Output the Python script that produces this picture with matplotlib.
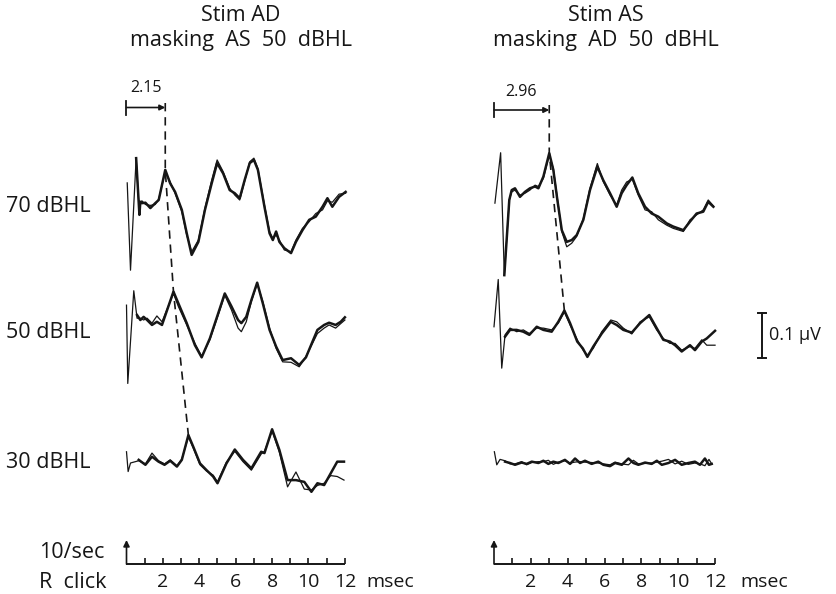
#!/usr/bin/env python3
"""ABR traces: stim AD / stim AS with contralateral masking at 50 dBHL.

Two replicate recordings per level, drawn on top of each other.
Writes out.png (837x594).
"""

import matplotlib
matplotlib.use("Agg")
import matplotlib.pyplot as plt
import numpy as np

# ---------------------------------------------------------------------------
# data: time in msec, amplitude in uV relative to each trace's own baseline
# ---------------------------------------------------------------------------
LEVELS = ["70 dBHL", "50 dBHL", "30 dBHL"]
TITLES = ["Stim AD\nmasking  AS  50  dBHL", "Stim AS\nmasking  AD  50  dBHL"]
LATENCY_LABELS = ["2.15", "2.96"]
TICK_MS = list(range(1, 13))
TICK_LABELS_MS = [2, 4, 6, 8, 10, 12]
SCALE_UV = 0.1

# wave V peak times, used for the dashed latency line (per level)
WAVE_V_AD = [2.13, 2.58, 3.40]
WAVE_V_AS = [3.00, 3.82]

# stim AD, 70 dBHL
AD70_T = [0.04, 0.22, 0.53, 0.71, 0.76, 0.85, 1.04, 1.31, 1.58, 1.77, 2.13, 2.40, 2.67, 3.04, 3.31,
          3.58, 3.95, 4.31, 4.68, 4.98, 5.31, 5.67, 5.95, 6.22, 6.49, 6.77, 7.00, 7.22, 7.58, 7.86,
          8.04, 8.22, 8.40, 8.67, 9.04, 9.31, 9.67, 10.04, 10.40, 10.77, 11.04, 11.31, 11.68, 12.04]
AD70_A = [0.038, -0.156, 0.093, -0.033, -0.004, -0.007, -0.006, -0.018, -0.007, 0.000, 0.067, 0.037,
          0.018, -0.022, -0.074, -0.122, -0.093, -0.022, 0.037, 0.082, 0.059, 0.022, 0.015, 0.004,
          0.044, 0.082, 0.089, 0.067, -0.015, -0.074, -0.089, -0.070, -0.093, -0.107, -0.118, -0.093,
          -0.067, -0.044, -0.037, -0.015, 0.004, -0.015, 0.007, 0.018]
AD70_B = [0.038, -0.156, 0.093, -0.033, -0.004, -0.002, -0.010, -0.012, -0.010, 0.002, 0.063, 0.040,
          0.015, -0.026, -0.078, -0.115, -0.089, -0.018, 0.044, 0.089, 0.063, 0.026, 0.011, 0.000,
          0.041, 0.085, 0.093, 0.070, -0.011, -0.070, -0.085, -0.078, -0.089, -0.111, -0.115, -0.089,
          -0.063, -0.048, -0.030, -0.022, -0.002, -0.005, 0.013, 0.015]

# stim AD, 50 dBHL
AD50_T = [0.00, 0.07, 0.40, 0.58, 0.76, 0.94, 1.13, 1.40, 1.67, 1.95, 2.58, 2.85, 3.31, 3.76, 4.13,
          4.58, 5.04, 5.40, 5.77, 6.13, 6.31, 6.58, 6.86, 7.18, 7.49, 7.86, 8.22, 8.58, 9.04, 9.49,
          9.86, 10.22, 10.49, 10.86, 11.13, 11.49, 11.77, 12.00]
AD50_A = [0.033, -0.141, 0.065, 0.011, 0.000, 0.007, 0.000, -0.011, -0.004, -0.011, 0.063, 0.037,
          -0.007, -0.056, -0.083, -0.041, 0.015, 0.059, 0.030, 0.000, -0.007, 0.007, 0.044, 0.083,
          0.037, -0.022, -0.059, -0.089, -0.085, -0.100, -0.083, -0.048, -0.022, -0.011, -0.006,
          -0.011, -0.004, 0.006]
AD50_B = [0.033, -0.141, 0.065, 0.004, 0.004, 0.000, 0.004, -0.007, 0.009, -0.004, 0.059, 0.030,
          -0.011, -0.052, -0.081, -0.044, 0.011, 0.055, 0.022, -0.018, -0.026, -0.004, 0.041, 0.081,
          0.041, -0.018, -0.063, -0.093, -0.094, -0.104, -0.081, -0.052, -0.030, -0.018, -0.011,
          -0.018, -0.008, 0.000]

# stim AD, 30 dBHL
AD30_T = [0.00, 0.09, 0.22, 0.49, 0.67, 1.04, 1.40, 1.76, 2.09, 2.40, 2.77, 3.04, 3.40, 3.67, 4.04,
          4.40, 4.76, 5.00, 5.49, 5.95, 6.40, 6.86, 7.40, 7.58, 8.00, 8.40, 8.85, 9.31, 9.77, 10.16,
          10.49, 10.86, 11.22, 11.58, 11.95]
AD30_A = [0.025, -0.019, 0.003, -0.001, 0.007, -0.004, 0.014, 0.003, -0.004, 0.005, -0.008, 0.007,
          0.062, 0.036, -0.001, -0.016, -0.030, -0.045, -0.001, 0.030, 0.007, -0.012, 0.025, 0.022,
          0.075, 0.029, -0.038, -0.038, -0.042, -0.064, -0.045, -0.049, -0.023, 0.003, 0.003]
AD30_B = [0.025, -0.019, 0.000, 0.003, 0.005, -0.002, 0.022, 0.005, -0.002, 0.007, -0.006, 0.009,
          0.058, 0.033, -0.004, -0.018, -0.027, -0.042, 0.002, 0.026, 0.003, -0.016, 0.020, 0.026,
          0.071, 0.024, -0.053, -0.020, -0.058, -0.060, -0.050, -0.045, -0.028, -0.030, -0.038]

# stim AS, 70 dBHL
AS70_T = [0.05, 0.36, 0.56, 0.83, 0.96, 1.14, 1.41, 1.68, 1.95, 2.23, 2.41, 2.68, 3.00, 3.22, 3.44,
          3.68, 3.95, 4.22, 4.49, 4.85, 5.21, 5.61, 5.93, 6.30, 6.66, 6.93, 7.20, 7.51, 7.83, 8.20,
          8.56, 8.92, 9.38, 9.73, 10.28, 10.64, 11.00, 11.36, 11.63, 11.91]
AS70_A = [-0.007, 0.105, -0.167, 0.000, 0.022, 0.026, 0.007, 0.018, 0.026, 0.030, 0.026, 0.052,
          0.104, 0.067, 0.000, -0.067, -0.093, -0.089, -0.078, -0.044, 0.022, 0.074, 0.044, 0.015,
          -0.015, 0.015, 0.033, 0.050, 0.015, -0.015, -0.030, -0.037, -0.052, -0.059, -0.067,
          -0.048, -0.030, -0.026, -0.004, -0.015]
AS70_B = [-0.007, 0.105, -0.167, 0.000, 0.018, 0.022, 0.011, 0.015, 0.022, 0.033, 0.030, 0.048,
          0.100, 0.070, 0.004, -0.070, -0.104, -0.096, -0.081, -0.041, 0.026, 0.081, 0.041, 0.011,
          -0.011, 0.022, 0.040, 0.046, 0.011, -0.022, -0.026, -0.044, -0.056, -0.063, -0.070,
          -0.044, -0.033, -0.022, 0.000, -0.013]

# stim AS, 50 dBHL
AS50_T = [0.00, 0.23, 0.42, 0.60, 0.87, 1.23, 1.59, 1.92, 2.32, 2.68, 3.13, 3.49, 3.82, 4.13, 4.52,
          4.82, 5.07, 5.39, 5.85, 6.34, 6.66, 7.02, 7.48, 7.93, 8.43, 8.83, 9.19, 9.55, 9.83, 10.19,
          10.64, 10.91, 11.28, 11.55, 12.00]
AS50_A = [-0.015, 0.090, -0.107, -0.037, -0.022, -0.022, -0.026, -0.033, -0.015, -0.022, -0.026,
          -0.004, 0.021, -0.007, -0.048, -0.063, -0.082, -0.059, -0.030, -0.004, -0.011, -0.022,
          -0.028, -0.007, 0.011, -0.018, -0.044, -0.048, -0.056, -0.070, -0.056, -0.067, -0.048,
          -0.041, -0.024]
AS50_B = [-0.015, 0.090, -0.107, -0.033, -0.018, -0.026, -0.022, -0.030, -0.018, -0.018, -0.022,
          -0.007, 0.018, -0.011, -0.044, -0.066, -0.078, -0.063, -0.026, 0.000, -0.004, -0.018,
          -0.031, -0.004, 0.007, -0.022, -0.041, -0.052, -0.052, -0.067, -0.059, -0.063, -0.044,
          -0.056, -0.056]

# stim AS, 30 dBHL (no response, noise only)
AS30_T = [0.02, 0.15, 0.33, 0.60, 0.87, 1.14, 1.50, 1.77, 2.05, 2.41, 2.68, 2.95, 3.22, 3.49, 3.85,
          4.13, 4.40, 4.67, 4.94, 5.30, 5.66, 5.94, 6.30, 6.57, 6.94, 7.30, 7.57, 7.84, 8.20, 8.56,
          8.84, 9.11, 9.47, 9.83, 10.19, 10.55, 10.91, 11.18, 11.45, 11.67, 11.82]
AS30_A = [0.025, -0.004, 0.010, 0.003, 0.000, -0.004, 0.001, -0.002, 0.003, 0.000, 0.005, -0.002,
          0.003, 0.000, 0.007, -0.002, 0.010, 0.000, 0.005, -0.002, 0.003, -0.004, -0.007, 0.000,
          -0.004, 0.010, 0.000, -0.004, 0.001, -0.002, 0.005, -0.004, 0.000, 0.007, -0.004, 0.000,
          0.003, -0.004, 0.010, -0.004, -0.002]
AS30_B = [0.025, -0.004, 0.008, 0.005, -0.002, -0.002, 0.003, -0.004, 0.001, 0.003, 0.003, 0.006,
          -0.003, 0.002, 0.005, 0.000, 0.002, 0.003, 0.002, 0.001, 0.000, -0.002, -0.004, 0.002,
          -0.002, -0.004, 0.006, -0.002, -0.001, 0.000, 0.002, 0.004, 0.008, -0.002, 0.004, -0.003,
          0.000, -0.002, -0.006, 0.008, -0.002]

# ---------------------------------------------------------------------------
# layout (pixels of the 837x594 output)
# ---------------------------------------------------------------------------
W, H = 837, 594
PX_PER_UV = 450.0          # 0.1 uV == 45 px
AXIS_Y_PX = 564            # time axis line
ROW_BASE_PX = [200, 320, 463]
ROW_LABEL_PX = [207, 333, 463]
ARTIFACT_MS = 0.5          # thin single line before this, doubled after
INK = "#161616"

plt.rcParams["font.family"] = ["Open Sans", "DejaVu Sans"]


def py(px):
    """pixel row -> y data (uV above the time axis)"""
    return (AXIS_Y_PX - px) / PX_PER_UV


def make_panel(fig, x0, x1, t0_px, px_per_ms):
    ax = fig.add_axes([x0 / W, 0, (x1 - x0) / W, 1])
    ax.set_xlim((x0 - t0_px) / px_per_ms, (x1 - t0_px) / px_per_ms)
    ax.set_ylim(py(H), py(0))
    ax.axis("off")
    px = lambda p: (p - t0_px) / px_per_ms  # noqa: E731
    return ax, px


def draw_trace(ax, t, a, b, base):
    t = np.asarray(t)
    a = np.asarray(a) + base
    b = np.asarray(b) + base
    ax.plot(t, b, color=INK, lw=0.9, solid_joinstyle="round")
    m = t >= ARTIFACT_MS
    ax.plot(t[m], a[m], color=INK, lw=1.8, solid_joinstyle="round")


def draw_time_axis(ax, px, msec_px, show_left_labels):
    ax.plot([0, 12], [0, 0], color=INK, lw=1.4, solid_capstyle="butt",
            zorder=5, clip_on=False)
    ax.vlines(TICK_MS, 0, 6 / PX_PER_UV, color=INK, lw=1.2, zorder=5, clip_on=False)
    ax.annotate("", xy=(0, py(540)), xytext=(0, 0),
                arrowprops=dict(arrowstyle="-|>", color=INK, lw=1.2,
                                mutation_scale=9, shrinkA=0, shrinkB=0))
    for v in TICK_LABELS_MS:
        ax.text(v, py(582), str(v), ha="center", va="center", fontsize=14, color=INK)
    ax.text(px(msec_px), py(582), "msec", ha="left", va="center", fontsize=14, color=INK)
    if show_left_labels:
        ax.text(px(39), py(552), "10/sec", ha="left", va="center", fontsize=15.5, color=INK)
        ax.text(px(39), py(582), "R  click", ha="left", va="center", fontsize=15.5, color=INK)


def draw_latency(ax, waves, traces, top_px, bracket_px, label, label_px, px):
    pts_t, pts_y = [waves[0]], [py(top_px)]
    for tv, (t, a, _b), base_px in zip(waves, traces, ROW_BASE_PX):
        pts_t.append(tv)
        pts_y.append(py(base_px) + np.interp(tv, t, a))
    ax.plot(pts_t, pts_y, color=INK, lw=1.2, dashes=(5, 3.5))
    yb = py(bracket_px)
    ax.plot([0, 0], [yb - 7 / PX_PER_UV, yb + 7 / PX_PER_UV], color=INK, lw=1.3)
    ax.annotate("", xy=(waves[0], yb), xytext=(0, yb),
                arrowprops=dict(arrowstyle="-|>", color=INK, lw=1.2,
                                mutation_scale=8, shrinkA=0, shrinkB=0))
    ax.text(px(label_px[0]), py(label_px[1]), label, ha="center", va="center",
            fontsize=11.5, color=INK)


def main():
    fig = plt.figure(figsize=(W / 100, H / 100), dpi=100)
    fig.patch.set_facecolor("white")

    ax_l, px_l = make_panel(fig, 0, 418, 126.5, 18.2)
    ax_r, px_r = make_panel(fig, 418, W, 494.0, 18.42)

    left = [(AD70_T, AD70_A, AD70_B), (AD50_T, AD50_A, AD50_B), (AD30_T, AD30_A, AD30_B)]
    right = [(AS70_T, AS70_A, AS70_B), (AS50_T, AS50_A, AS50_B), (AS30_T, AS30_A, AS30_B)]

    for (t, a, b), base_px in zip(left, ROW_BASE_PX):
        draw_trace(ax_l, t, a, b, py(base_px))
    for (t, a, b), base_px in zip(right, ROW_BASE_PX):
        draw_trace(ax_r, t, a, b, py(base_px))

    # level labels on the left
    for lab, lpx in zip(LEVELS, ROW_LABEL_PX):
        ax_l.text(px_l(6), py(lpx), lab, ha="left", va="center", fontsize=15.5, color=INK)

    # titles
    ax_l.text(px_l(241), py(28), TITLES[0], ha="center", va="center", fontsize=15.5,
              color=INK, linespacing=1.2)
    ax_r.text(px_r(606), py(28), TITLES[1], ha="center", va="center", fontsize=15.5,
              color=INK, linespacing=1.2)

    draw_latency(ax_l, WAVE_V_AD, left, 103, 107.5, LATENCY_LABELS[0], (146, 88), px_l)
    draw_latency(ax_r, WAVE_V_AS, right, 105, 110, LATENCY_LABELS[1], (521, 92), px_r)

    draw_time_axis(ax_l, px_l, 366, True)
    draw_time_axis(ax_r, px_r, 740, False)

    # 0.1 uV scale bar
    xs = px_r(762)
    y0, y1 = py(358), py(358) + SCALE_UV
    cap = 4 / 18.42
    ax_r.plot([xs, xs], [y0, y1], color=INK, lw=1.4)
    ax_r.plot([xs - cap, xs + cap], [y0, y0], color=INK, lw=1.4)
    ax_r.plot([xs - cap, xs + cap], [y1, y1], color=INK, lw=1.4)
    ax_r.text(px_r(769), (y0 + y1) / 2, "0.1 µV", ha="left", va="center",
              fontsize=13, color=INK)

    fig.savefig("out.png", dpi=100, facecolor="white")
    plt.close(fig)


if __name__ == "__main__":
    main()
